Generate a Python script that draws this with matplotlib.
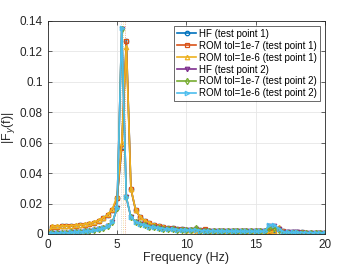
import numpy as np
import matplotlib.pyplot as plt

plt.rcParams['font.family'] = ['Liberation Sans', 'DejaVu Sans']

# frequency grid (Hz), step 1/3
freq = np.arange(61) / 3.0

# test point 1
hf_1 = [0.0005, 0.0048, 0.0049, 0.0050, 0.0051, 0.0053, 0.0055, 0.0058, 0.0062, 0.0067,
        0.0075, 0.0087, 0.0102, 0.0124, 0.0160, 0.0235, 0.0570, 0.1270, 0.0295, 0.0158,
        0.0110, 0.0087, 0.0072, 0.0060, 0.0051, 0.0045, 0.0040, 0.0036, 0.0033, 0.0030,
        0.0028, 0.0026, 0.0025, 0.0024, 0.0026, 0.0022, 0.0021, 0.0020, 0.0020, 0.0019,
        0.0019, 0.0018, 0.0018, 0.0018, 0.0017, 0.0017, 0.0017, 0.0017, 0.0018, 0.0025,
        0.0032, 0.0020, 0.0012, 0.0011, 0.0010, 0.0010, 0.0009, 0.0009, 0.0009, 0.0008,
        0.0008]
rom7_1 = [0.0005, 0.0048, 0.0049, 0.0050, 0.0051, 0.0053, 0.0055, 0.0058, 0.0062, 0.0067,
          0.0075, 0.0087, 0.0102, 0.0124, 0.0160, 0.0235, 0.0565, 0.1265, 0.0295, 0.0158,
          0.0110, 0.0087, 0.0072, 0.0060, 0.0051, 0.0045, 0.0040, 0.0036, 0.0033, 0.0030,
          0.0028, 0.0026, 0.0025, 0.0024, 0.0031, 0.0022, 0.0021, 0.0020, 0.0020, 0.0019,
          0.0019, 0.0018, 0.0018, 0.0018, 0.0017, 0.0017, 0.0017, 0.0017, 0.0020, 0.0022,
          0.0035, 0.0018, 0.0012, 0.0011, 0.0010, 0.0010, 0.0009, 0.0009, 0.0009, 0.0008,
          0.0008]
rom6_1 = [0.0005, 0.0050, 0.0051, 0.0052, 0.0053, 0.0055, 0.0057, 0.0060, 0.0064, 0.0070,
          0.0078, 0.0090, 0.0106, 0.0128, 0.0165, 0.0248, 0.0600, 0.1230, 0.0297, 0.0160,
          0.0112, 0.0088, 0.0073, 0.0061, 0.0052, 0.0046, 0.0041, 0.0037, 0.0034, 0.0031,
          0.0029, 0.0027, 0.0008, 0.0024, 0.0023, 0.0022, 0.0021, 0.0020, 0.0020, 0.0019,
          0.0019, 0.0018, 0.0018, 0.0018, 0.0017, 0.0017, 0.0017, 0.0012, 0.0010, 0.0020,
          0.0045, 0.0018, 0.0010, 0.0010, 0.0009, 0.0009, 0.0009, 0.0009, 0.0008, 0.0008,
          0.0008]

# test point 2
hf_2 = [0.0003, 0.0005, 0.0006, 0.0007, 0.0008, 0.0010, 0.0012, 0.0014, 0.0017, 0.0020,
        0.0025, 0.0030, 0.0038, 0.0050, 0.0077, 0.0170, 0.1350, 0.0240, 0.0110, 0.0080,
        0.0066, 0.0056, 0.0049, 0.0043, 0.0038, 0.0035, 0.0032, 0.0030, 0.0028, 0.0026,
        0.0025, 0.0024, 0.0030, 0.0022, 0.0021, 0.0020, 0.0020, 0.0019, 0.0019, 0.0018,
        0.0018, 0.0018, 0.0017, 0.0017, 0.0017, 0.0017, 0.0017, 0.0018, 0.0055, 0.0050,
        0.0030, 0.0013, 0.0011, 0.0010, 0.0010, 0.0009, 0.0009, 0.0009, 0.0008, 0.0008,
        0.0008]
rom7_2 = [0.0003, 0.0005, 0.0006, 0.0007, 0.0008, 0.0010, 0.0012, 0.0014, 0.0017, 0.0020,
          0.0025, 0.0030, 0.0038, 0.0050, 0.0077, 0.0170, 0.1350, 0.0240, 0.0110, 0.0080,
          0.0066, 0.0056, 0.0049, 0.0043, 0.0038, 0.0035, 0.0032, 0.0030, 0.0028, 0.0026,
          0.0025, 0.0024, 0.0042, 0.0022, 0.0021, 0.0020, 0.0020, 0.0019, 0.0019, 0.0018,
          0.0018, 0.0018, 0.0017, 0.0017, 0.0017, 0.0017, 0.0017, 0.0018, 0.0040, 0.0042,
          0.0025, 0.0008, 0.0008, 0.0008, 0.0008, 0.0008, 0.0008, 0.0008, 0.0008, 0.0008,
          0.0008]
rom6_2 = [0.0003, 0.0005, 0.0006, 0.0007, 0.0008, 0.0010, 0.0012, 0.0014, 0.0017, 0.0020,
          0.0025, 0.0030, 0.0038, 0.0050, 0.0078, 0.0172, 0.1355, 0.0240, 0.0110, 0.0080,
          0.0066, 0.0056, 0.0049, 0.0043, 0.0038, 0.0035, 0.0032, 0.0030, 0.0028, 0.0026,
          0.0025, 0.0024, 0.0028, 0.0022, 0.0021, 0.0020, 0.0020, 0.0019, 0.0019, 0.0018,
          0.0018, 0.0018, 0.0017, 0.0017, 0.0017, 0.0017, 0.0017, 0.0018, 0.0062, 0.0058,
          0.0035, 0.0013, 0.0011, 0.0010, 0.0010, 0.0009, 0.0009, 0.0009, 0.0008, 0.0008,
          0.0008]

series = [
    (hf_1, 'HF (test point 1)', '#0072BD', 'o'),
    (rom7_1, 'ROM tol=1e-7 (test point 1)', '#D95319', 's'),
    (rom6_1, 'ROM tol=1e-6 (test point 1)', '#EDB120', '^'),
    (hf_2, 'HF (test point 2)', '#7E2F8E', 'v'),
    (rom7_2, 'ROM tol=1e-7 (test point 2)', '#77AC30', 'd'),
    (rom6_2, 'ROM tol=1e-6 (test point 2)', '#4DBEEE', '>'),
]

fig = plt.figure(figsize=(3.57, 2.68), dpi=100)
ax = fig.add_axes([0.134, 0.127, 0.776, 0.795])

for vals, label, color, marker in series:
    ax.plot(freq, vals, color=color, marker=marker, markersize=3.2, markerfacecolor='none',
            markeredgewidth=0.9, linewidth=1.2, label=label)

# dotted markers of the peak frequencies
for xv, c in [(5.3, '#aaaaaa'), (5.45, '#EDB120'), (5.6, '#D95319')]:
    ax.axvline(xv, color=c, linestyle=':', linewidth=0.6, alpha=0.6, zorder=0)

ax.set_xlim(0, 20)
ax.set_ylim(0, 0.14)
ax.set_xticks([0, 5, 10, 15, 20])
ax.set_yticks(np.arange(0, 0.141, 0.02))
ax.set_yticklabels(['0', '0.02', '0.04', '0.06', '0.08', '0.1', '0.12', '0.14'])
ax.grid(True, color='#e6e6e6', linewidth=0.6)
ax.set_axisbelow(True)
ax.tick_params(direction='in', top=True, right=True, labelsize=8.5, colors='#262626',
               length=3, width=0.5)
for s in ax.spines.values():
    s.set_linewidth(0.6)
    s.set_color('#262626')
ax.set_xlabel('Frequency (Hz)', fontsize=9, color='#262626', labelpad=1)
ax.set_ylabel('|F$_y$(f)|', fontsize=9, color='#262626', labelpad=2)

leg = ax.legend(loc='upper right', fontsize=7, frameon=True, fancybox=False,
                edgecolor='#262626', handlelength=2.0, handletextpad=0.3,
                borderpad=0.3, labelspacing=0.2, borderaxespad=0.5)
leg.get_frame().set_linewidth(0.6)

fig.savefig('out.png', dpi=100)
